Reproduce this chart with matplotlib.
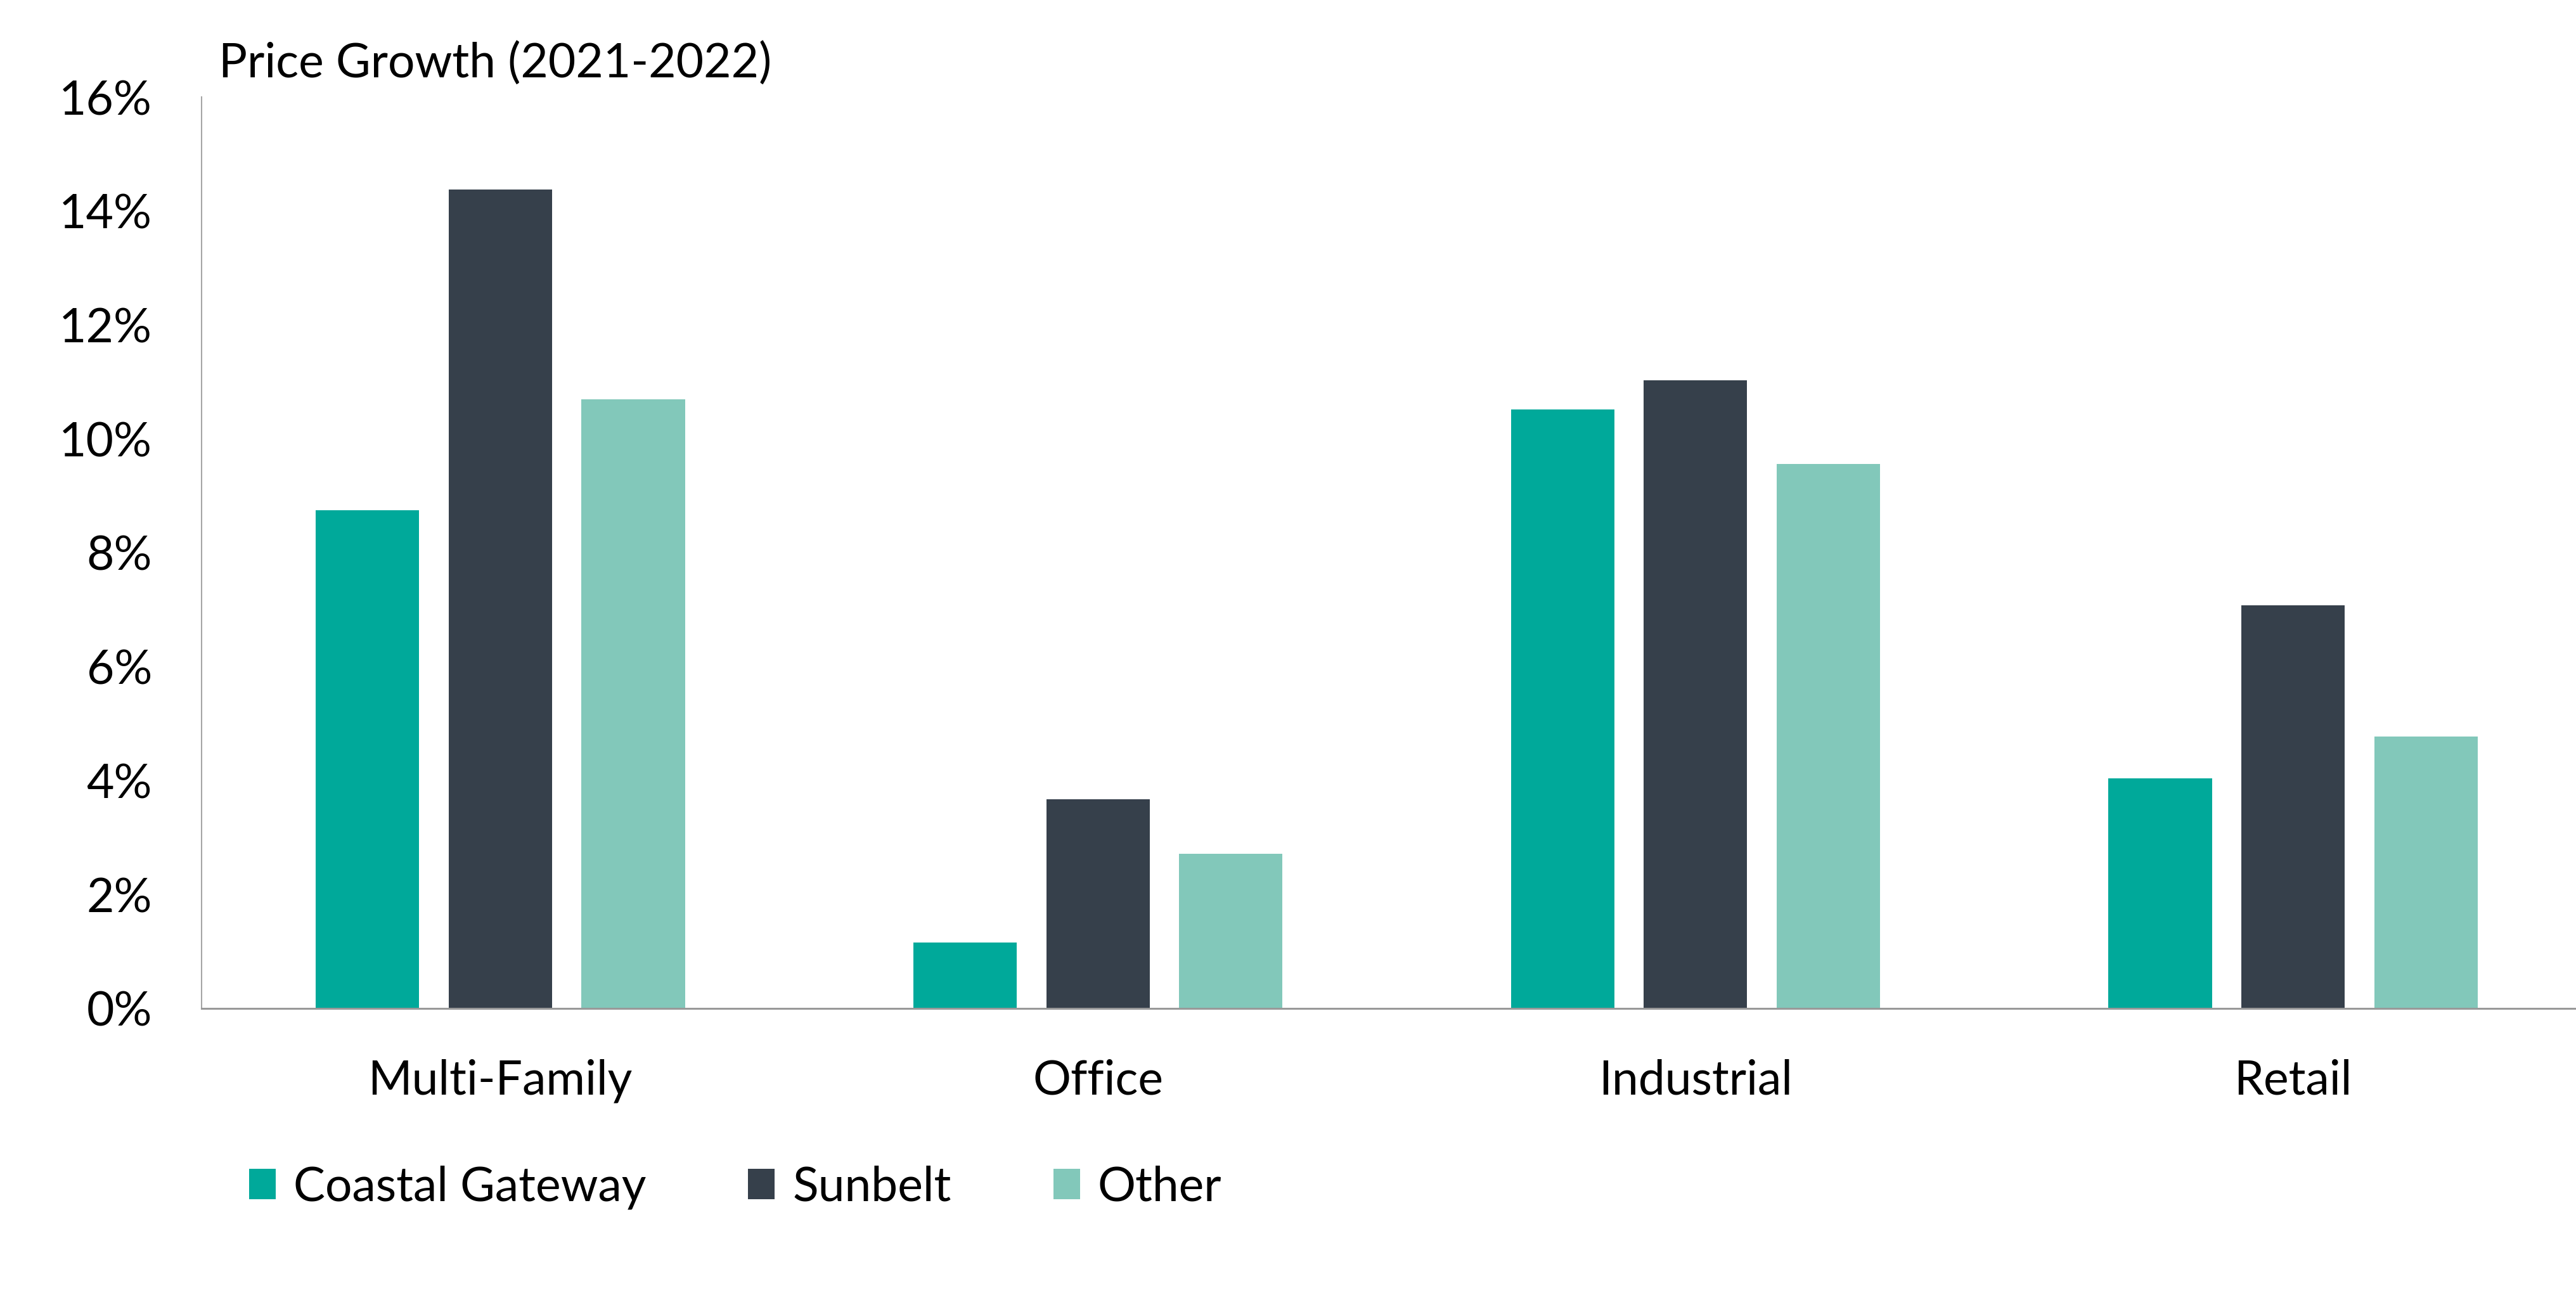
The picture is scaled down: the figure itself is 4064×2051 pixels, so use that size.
import matplotlib.pyplot as plt
import numpy as np
from matplotlib.ticker import FuncFormatter

plt.rcParams['font.family'] = ['Lato', 'DejaVu Sans']

categories = ["Multi-Family", "Office", "Industrial", "Retail"]
series_names = ["Coastal Gateway", "Sunbelt", "Other"]
coastal = [8.75, 1.16, 10.51, 4.04]
sunbelt = [14.38, 3.67, 11.03, 7.08]
other = [10.69, 2.71, 9.56, 4.77]
colors = ["#00A99A", "#36404B", "#82C8BA"]

fs = 54

fig = plt.figure(figsize=(40.64, 20.51), dpi=100)
ax = fig.add_axes([0.0782, 0.2243, 0.928, 0.7011])

x = np.arange(len(categories))
offset = 0.2225
width = 0.173
bars = []
for i, (vals, name) in enumerate(zip([coastal, sunbelt, other], series_names)):
    b = ax.bar(x + (i - 1) * offset, vals, width, color=colors[i], label=name)
    bars.append(b)

ax.set_xlim(-0.5, 3.5)
ax.set_ylim(0, 16)
ax.set_yticks(range(0, 17, 2))
ax.yaxis.set_major_formatter(FuncFormatter(lambda v, p: f"{v:.0f}%"))
ax.set_xticks(x)
ax.set_xticklabels(categories)
ax.tick_params(axis='y', length=0, pad=56, labelsize=fs)
ax.tick_params(axis='x', length=0, pad=57, labelsize=fs)

for s in ['top', 'right']:
    ax.spines[s].set_visible(False)
ax.spines['left'].set_color('#A6A6A6')
ax.spines['left'].set_linewidth(1.5)
ax.spines['bottom'].set_color('#999999')
ax.spines['bottom'].set_linewidth(2.2)

fig.text(0.0849, 0.9405, "Price Growth (2021-2022)", fontsize=fs, va='baseline', ha='left')

fig.legend(handles=bars, labels=series_names, loc='center left',
           bbox_to_anchor=(0.0967, 0.0867), ncol=3, frameon=False,
           fontsize=fs, borderpad=0, borderaxespad=0,
           handlelength=0.56, handleheight=0.59, handletextpad=0.37,
           columnspacing=2.15)

fig.savefig("out.png", dpi=100)
